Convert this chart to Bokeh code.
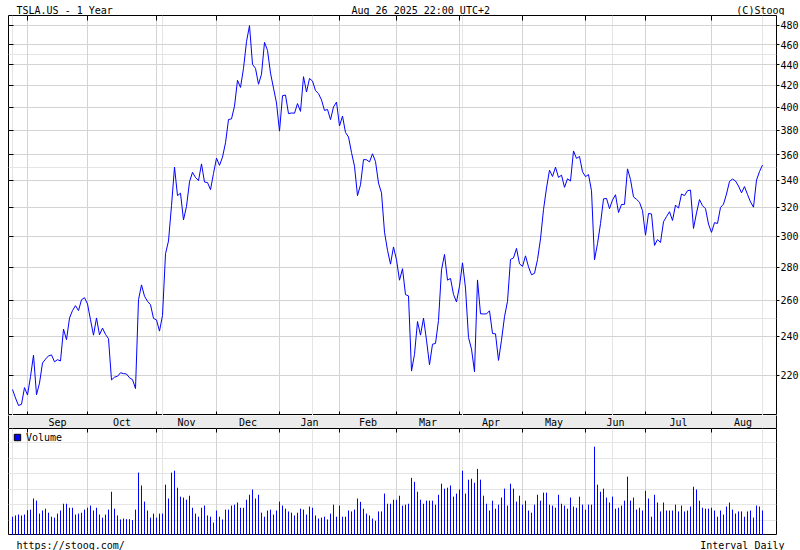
import numpy as np
import pandas as pd
from bokeh.plotting import figure
from bokeh.layouts import column
from bokeh.models import (Range1d, FixedTicker, LinearAxis, LogAxis, PrintfTickFormatter,
                          Legend, LegendItem, Grid)
from bokeh.core.properties import value
from bokeh.embed import file_html
from bokeh.resources import INLINE

FONT = "DejaVu Sans Mono"

# ---- data -------------------------------------------------------------
holidays = ["2024-09-02", "2024-11-28", "2024-12-25", "2025-01-01", "2025-01-09",
            "2025-01-20", "2025-02-17", "2025-04-18", "2025-05-26", "2025-06-19",
            "2025-07-04"]

close_aug24 = [213.21, 209.21, 205.75, 206.28, 214.11]
close_sep24 = [210.60, 219.41, 230.17, 210.73, 216.27, 226.17, 228.13, 229.81, 230.29, 226.78,
               227.87, 227.20, 243.92, 238.25, 250.00, 254.27, 257.02, 254.22, 260.46, 261.63]
close_oct24 = [258.02, 249.02, 240.66, 250.08, 240.83, 244.50, 241.05, 238.77, 217.80, 219.16,
               219.57, 221.33, 220.89, 220.70, 218.85, 217.97, 213.65, 260.48, 269.19, 262.51,
               259.52, 257.55, 249.85]
close_nov24 = [248.98, 242.84, 251.44, 288.53, 296.91, 321.22, 350.00, 328.49, 330.24, 311.18,
               320.72, 338.74, 346.00, 342.03, 339.64, 352.56, 338.59, 338.23, 332.89, 345.16]
close_dec24 = [357.09, 351.42, 357.93, 369.49, 389.22, 389.79, 400.99, 424.77, 418.10, 436.23,
               463.02, 479.86, 440.13, 436.17, 421.06, 430.60, 462.28, 454.13, 431.66, 417.41,
               403.84]
close_jan25 = [379.28, 410.44, 411.05, 394.36, 394.94, 394.74, 403.31, 396.36, 428.22, 413.82,
               426.50, 424.07, 415.11, 412.38, 406.58, 397.15, 398.09, 389.10, 400.28, 404.60]
close_feb25 = [383.68, 392.21, 378.17, 374.32, 361.62, 350.73, 328.50, 336.51, 355.94, 355.84,
               354.11, 360.56, 354.40, 337.80, 330.53, 302.80, 290.80, 281.95, 292.98]
close_mar25 = [284.65, 272.04, 279.10, 263.45, 262.67, 222.15, 230.58, 248.09, 240.68, 249.98,
               238.01, 225.31, 235.86, 236.26, 248.71, 278.39, 288.14, 272.06, 273.13, 263.55,
               259.16]
close_apr25 = [268.46, 282.76, 267.28, 239.43, 233.29, 221.86, 272.20, 252.40, 252.31, 252.35,
               254.11, 241.55, 241.37, 227.50, 237.97, 250.74, 259.51, 284.95, 285.88, 292.03,
               282.16]
close_may25 = [280.52, 287.21, 280.26, 275.35, 276.22, 284.82, 298.26, 318.38, 334.07, 347.68,
               342.82, 349.98, 342.09, 343.82, 334.62, 341.04, 339.34, 362.89, 356.90, 358.43,
               346.46]
close_jun25 = [342.69, 344.27, 332.05, 284.70, 295.14, 308.58, 326.09, 326.43, 319.11, 325.31,
               329.13, 316.35, 322.05, 322.16, 348.68, 340.47, 327.55, 325.78, 323.63, 317.66]
close_jul25 = [300.71, 315.65, 315.35, 293.94, 297.81, 295.88, 309.87, 313.51, 316.90, 310.78,
               321.67, 319.41, 329.65, 328.49, 332.11, 332.56, 305.30, 316.06, 325.59, 321.20,
               319.04, 308.27]
close_aug25 = [302.63, 309.26, 308.72, 319.91, 322.27, 329.65, 339.03, 340.84, 339.38, 335.58,
               330.56, 335.16, 329.31, 323.90, 320.11, 340.01, 346.60, 351.67]

# daily volume, millions of shares
volume_h1 = [61, 65, 68, 65, 68, 82, 84, 120, 113, 71,
             81, 87, 74, 61, 58, 71, 81, 103, 103, 90,
             90, 68, 71, 74, 84, 90, 97, 81, 90, 68,
             58, 68, 84, 142, 87, 65, 52, 55, 53, 53,
             50, 84, 204, 162, 110, 81, 58, 71, 58, 71,
             71, 165, 120, 204, 210, 155, 126, 123, 116, 129,
             90, 71, 61, 90, 97, 65, 61, 42, 81, 61,
             52, 84, 84, 97, 100, 107, 90, 90, 116, 132,
             149, 120, 132, 74, 61, 81, 84, 68, 81, 110,
             97, 87, 78, 74, 65, 74, 87, 84, 68, 94,
             90, 65, 55, 58, 61, 52, 71, 100, 61, 97,
             61, 61, 81, 78, 84, 120, 109, 87, 71, 65,
             55, 48, 78, 78, 136, 103, 103, 116, 116]
volume_h2 = [129, 97, 100, 103, 187, 174, 142, 116, 103, 113,
             113, 113, 100, 132, 168, 152, 155, 162, 126, 136,
             149, 210, 136, 181, 184, 171, 216, 181, 129, 103,
             81, 113, 87, 100, 123, 152, 97, 168, 152, 110,
             129, 100, 113, 81, 74, 100, 132, 113, 139, 139,
             100, 97, 90, 132, 103, 97, 87, 123, 94, 90,
             126, 100, 84, 100, 100, 288, 165, 142, 152, 123,
             107, 126, 87, 90, 97, 113, 191, 113, 123, 84,
             90, 81, 145, 120, 61, 132, 107, 78, 107, 81,
             81, 81, 100, 78, 97, 78, 81, 94, 158, 149,
             113, 90, 87, 87, 90, 81, 61, 81, 68, 94,
             107, 84, 71, 78, 78, 61, 78, 81, 58, 97,
             94, 81]

price_ticks = [220, 240, 260, 280, 300, 320, 340, 360, 380, 400, 420, 440, 460, 480]

title_left = "TSLA.US - 1 Year"
title_right = "(C)Stooq"
footer_left = "https://stooq.com/"
footer_right = "Interval Daily"
legend_label = "Volume"

# ---- derived ----------------------------------------------------------
dates = pd.bdate_range("2024-08-26", "2025-08-26", freq="C", holidays=holidays)
close = (close_aug24 + close_sep24 + close_oct24 + close_nov24 + close_dec24 + close_jan25 +
         close_feb25 + close_mar25 + close_apr25 + close_may25 + close_jun25 + close_jul25 +
         close_aug25)
volume = volume_h1 + volume_h2
n = len(dates)
assert len(close) == n and len(volume) == n, (n, len(close), len(volume))
x = np.arange(n)

starts = [i for i in range(1, n) if dates[i].month != dates[i - 1].month]
last_month_days = len(pd.bdate_range(dates[starts[-1]], dates[starts[-1]] + pd.offsets.MonthEnd(0),
                                     freq="C", holidays=holidays))
ends = starts[1:] + [starts[-1] + last_month_days]
centers = [(s + e) / 2 for s, e in zip(starts, ends)]
month_labels = [dates[s].strftime("%b") for s in starts]
title_mid = dates[-1].strftime("%b %d %Y") + " 22:00 UTC+2"

# ---- layout constants -------------------------------------------------
W = 800
LB = 8            # left border
FW = 768          # frame width
RB = W - LB - FW  # right border for price labels
FRAME_R = LB + FW
GRID = "#d3d3d3"
BLUE = "#0000ff"

def borders(fig, left=0, right=0):
    fig.min_border_left = left
    fig.min_border_right = right
    fig.min_border_top = 0
    fig.min_border_bottom = 0

def hidden_axis(cls, ticker, tick_in):
    return cls(ticker=ticker, major_tick_in=tick_in, major_tick_out=0,
               minor_tick_in=0, minor_tick_out=0, axis_line_color=None,
               major_tick_line_color="black", major_label_text_color=None,
               major_label_standoff=0)

tkw = dict(text_font=value(FONT), text_font_size="10px", text_color="black")

# ---- top text ---------------------------------------------------------
top = figure(frame_width=W, frame_height=15, x_range=Range1d(0, W),
             y_range=Range1d(0, 15), x_axis_location=None, y_axis_location=None,
             toolbar_location=None, output_backend="svg", outline_line_color=None)
borders(top)
top.grid.visible = False
top.text(x=[LB], y=[5], text=[title_left], text_align="left", text_baseline="alphabetic", **tkw)
top.text(x=[343], y=[5], text=[title_mid], text_align="left", text_baseline="alphabetic", **tkw)
top.text(x=[FRAME_R], y=[5], text=[title_right], text_align="right", text_baseline="alphabetic", **tkw)

# ---- price panel ------------------------------------------------------
xr = Range1d(-4.0 / 3.0, -4.0 / 3.0 + FW / 3.0)
p = figure(frame_width=FW, frame_height=400, x_range=xr, y_range=Range1d(201.2, 490.8),
           y_axis_type="log", x_axis_location=None, y_axis_location=None,
           toolbar_location=None, output_backend="svg",
           outline_line_color="black", outline_line_width=1)
borders(p, LB, RB)
p.add_layout(Grid(dimension=0, ticker=FixedTicker(ticks=starts), grid_line_color=GRID))
p.add_layout(Grid(dimension=1, ticker=FixedTicker(ticks=price_ticks), grid_line_color=GRID))
yr = LogAxis(ticker=FixedTicker(ticks=price_ticks), formatter=PrintfTickFormatter(format="%d"),
             major_tick_out=3, major_tick_in=0, minor_tick_in=0, minor_tick_out=0,
             axis_line_color=None, major_tick_line_color="black",
             major_label_text_font=FONT, major_label_text_font_size="10px",
             major_label_text_color="black", major_label_standoff=1)
p.add_layout(yr, "right")
p.add_layout(hidden_axis(LogAxis, FixedTicker(ticks=price_ticks), 5), "left")
p.add_layout(hidden_axis(LinearAxis, FixedTicker(ticks=starts), 5), "above")
p.add_layout(hidden_axis(LinearAxis, FixedTicker(ticks=starts), 4), "below")
p.line(x=x, y=close, line_color=BLUE, line_width=1)

# ---- month band -------------------------------------------------------
band = figure(frame_width=FW, frame_height=13, x_range=xr, y_range=Range1d(0, 13),
              x_axis_location=None, y_axis_location=None, toolbar_location=None,
              output_backend="svg", outline_line_color=None, background_fill_color="#ebebeb")
borders(band, LB, RB)
band.grid.visible = False
for side in ("left", "right"):
    ax = hidden_axis(LinearAxis, FixedTicker(ticks=[]), 0)
    ax.axis_line_color = "black"
    band.add_layout(ax, side)
band.text(x=centers, y=[6.5] * len(centers), text=month_labels, text_align="center",
          text_baseline="middle", **tkw)

# ---- volume panel -----------------------------------------------------
v = figure(frame_width=FW, frame_height=107, x_range=xr, y_range=Range1d(0, 347),
           x_axis_location=None, y_axis_location=None, toolbar_location=None,
           output_backend="svg", outline_line_color="black", outline_line_width=1)
borders(v, LB, RB)
v.add_layout(Grid(dimension=0, ticker=FixedTicker(ticks=starts), grid_line_color=GRID))
v.add_layout(hidden_axis(LinearAxis, FixedTicker(ticks=starts), 4), "above")
v.segment(x0=x, y0=[0] * n, x1=x, y1=volume, line_color=BLUE, line_width=1)
dummy = v.scatter(x=np.array([np.nan]), y=np.array([np.nan]), marker="square", size=6,
                  fill_color=BLUE, line_color="black")
leg = Legend(items=[LegendItem(label=legend_label, renderers=[dummy])], location="top_left",
             margin=1, padding=0, spacing=0, glyph_width=16, glyph_height=16, label_standoff=1,
             label_text_font=FONT, label_text_font_size="10px", label_text_color="black",
             border_line_color=None, background_fill_alpha=0)
v.add_layout(leg)

# ---- footer -----------------------------------------------------------
bot = figure(frame_width=W, frame_height=15, x_range=Range1d(0, W),
             y_range=Range1d(0, 15), x_axis_location=None, y_axis_location=None,
             toolbar_location=None, output_backend="svg", outline_line_color=None)
borders(bot)
bot.grid.visible = False
bot.text(x=[LB], y=[5.5], text=[footer_left], text_align="left", text_baseline="alphabetic", **tkw)
bot.text(x=[FRAME_R], y=[5.5], text=[footer_right], text_align="right", text_baseline="alphabetic", **tkw)

layout = column(top, p, band, v, bot, spacing=0)
open("out.html", "w").write(file_html(layout, INLINE))
